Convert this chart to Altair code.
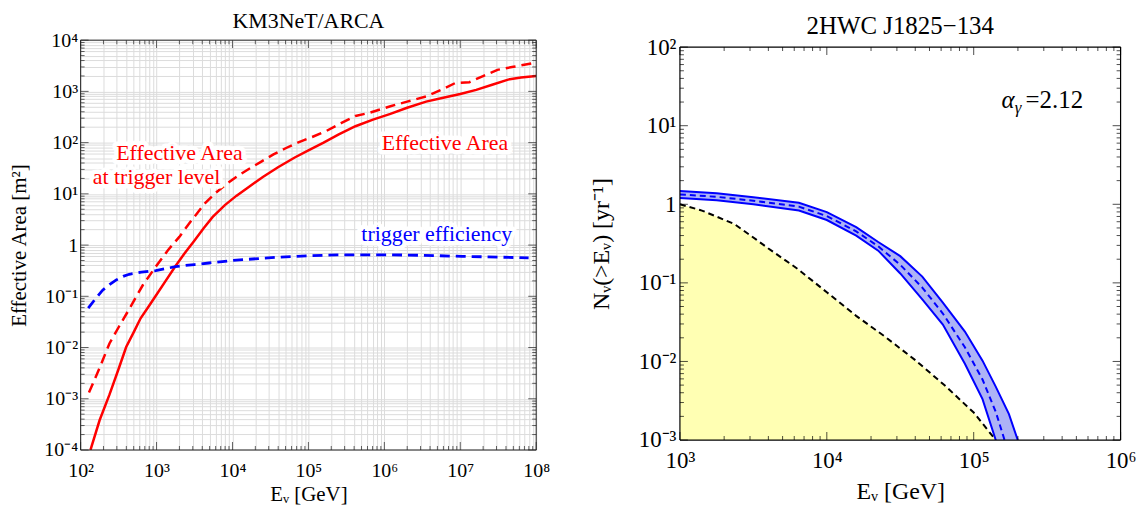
import altair as alt
import pandas as pd

FONT = "Liberation Serif"

# ---------------- Left panel: KM3NeT/ARCA (log10 E [GeV], log10 value) ----------------
AEFF_LOGE = [2.13, 2.25, 2.38, 2.50, 2.60, 2.70, 2.79, 2.90, 2.99, 3.12, 3.25, 3.37, 3.49, 3.62, 3.74, 3.90,
             4.05, 4.21, 4.40, 4.60, 4.82, 5.00, 5.20, 5.40, 5.62, 5.85, 6.08, 6.30, 6.55, 6.79, 7.00, 7.21,
             7.42, 7.63, 7.80, 8.00]
AEFF_LOGA = [-4.00, -3.42, -2.92, -2.42, -1.99, -1.70, -1.43, -1.19, -0.99, -0.70, -0.41, -0.16, 0.07, 0.33,
             0.55, 0.78, 0.96, 1.13, 1.33, 1.52, 1.71, 1.85, 2.00, 2.16, 2.32, 2.45, 2.56, 2.68, 2.80, 2.88,
             2.95, 3.03, 3.13, 3.23, 3.27, 3.30]
TRIG_AREA_LOGE = [2.11, 2.25, 2.38, 2.51, 2.64, 2.82, 2.99, 3.15, 3.30, 3.46, 3.64, 3.78, 3.92, 4.06, 4.21,
                  4.38, 4.54, 4.70, 4.86, 5.05, 5.24, 5.43, 5.62, 5.80, 6.08, 6.30, 6.55, 6.75, 6.93, 7.12,
                  7.30, 7.49, 7.70, 7.96]
TRIG_AREA_LOGA = [-2.88, -2.40, -1.92, -1.58, -1.25, -0.78, -0.42, -0.10, 0.16, 0.48, 0.82, 1.02, 1.19, 1.34,
                  1.48, 1.63, 1.77, 1.89, 2.00, 2.11, 2.23, 2.38, 2.52, 2.58, 2.71, 2.80, 2.90, 3.03, 3.16,
                  3.18, 3.30, 3.42, 3.48, 3.55]
TRIG_EFF_LOGE = [2.10, 2.20, 2.29, 2.38, 2.47, 2.56, 2.64, 2.80, 2.99, 3.25, 3.50, 3.69, 4.00, 4.56, 5.00,
                 5.38, 5.62, 6.08, 6.50, 7.02, 7.50, 7.90]
TRIG_EFF_LOG = [-1.23, -1.04, -0.88, -0.77, -0.68, -0.61, -0.57, -0.53, -0.50, -0.42, -0.38, -0.35, -0.30,
                -0.24, -0.21, -0.19, -0.19, -0.19, -0.20, -0.22, -0.235, -0.25]

LEFT_NOTES_TEXT = ["Effective Area", "at trigger level", "Effective Area", "trigger efficiency"]
LEFT_NOTES_E = [2.0e3, 1.0e3, 6.3e6, 4.9e6]
LEFT_NOTES_V = [64.0, 21.0, 100.0, 1.64]
LEFT_NOTES_COLOR = ["#ff0000", "#ff0000", "#ff0000", "#0000ff"]

LEFT_X_LABELS = ["10²", "10³", "10⁴", "10⁵", "10⁶", "10⁷", "10⁸"]
LEFT_Y_LABELS = ["10⁻⁴", "10⁻³", "10⁻²", "10⁻¹", "1", "10¹", "10²", "10³", "10⁴"]

# ---------------- Right panel: 2HWC J1825-134 (log10 E [GeV], log10 N [1/yr]) ----------------
BAND_LOGE = [3.00, 3.25, 3.50, 3.81, 4.00, 4.20, 4.35, 4.50, 4.65, 4.79, 4.94, 5.06, 5.15, 5.24, 5.30]
BAND_HI = [0.17, 0.14, 0.09, 0.02, -0.10, -0.29, -0.48, -0.66, -0.92, -1.25, -1.62, -1.99, -2.32, -2.67, -3.00]
BAND_LO_LOGE = [3.00, 3.25, 3.50, 3.81, 4.00, 4.20, 4.35, 4.50, 4.65, 4.79, 4.94, 5.06, 5.15]
BAND_LO = [0.08, 0.05, 0.00, -0.08, -0.20, -0.40, -0.59, -0.88, -1.21, -1.53, -2.03, -2.48, -3.00]
BAND_MID_LOGE = [3.00, 3.25, 3.50, 3.81, 4.00, 4.20, 4.35, 4.50, 4.65, 4.79, 4.94, 5.06, 5.15, 5.21]
BAND_MID = [0.125, 0.095, 0.045, -0.03, -0.15, -0.345, -0.535, -0.77, -1.06, -1.39, -1.82, -2.23, -2.64, -3.00]
BLACK_LOGE = [3.00, 3.15, 3.37, 3.52, 3.60, 3.80, 4.00, 4.20, 4.40, 4.60, 4.80, 5.00, 5.15]
BLACK_LOGN = [0.00, -0.08, -0.25, -0.45, -0.56, -0.82, -1.12, -1.42, -1.69, -1.98, -2.30, -2.65, -3.00]

ALPHA_AT = (1.9e5, 16.9)

RIGHT_X_LABELS = ["10³", "10⁴", "10⁵", "10⁶"]
RIGHT_Y_LABELS = ["10⁻³", "10⁻²", "10⁻¹", "1", "10¹", "10²"]


def curve(loge, logv):
    return pd.DataFrame({"x": [10 ** v for v in loge], "y": [10 ** v for v in logv]})


def decades(lo, hi):
    major = [10.0 ** k for k in range(lo, hi + 1)]
    minor = [m * 10.0 ** k for k in range(lo, hi) for m in range(2, 10)]
    return major, minor


def label_expr(lo, labels):
    parts = []
    for i, lab in enumerate(labels):
        v = 10.0 ** (lo + i)
        parts.append(f"(abs(datum.value - {v!r}) < {v * 1e-6!r}) ? '{lab}' : ")
    return "".join(parts) + "''"


def frame_and_ticks(xs, ys, xlim, ylim, xmaj, xmin, ymaj, ymin, W, top, bottom, big, small, color, sw):
    layers = []
    v = pd.DataFrame({"x": list(xlim), "y": [ylim[0]] * 2, "y2": [ylim[1]] * 2})
    h = pd.DataFrame({"y": list(ylim), "x": [xlim[0]] * 2, "x2": [xlim[1]] * 2})
    layers.append(alt.Chart(v).mark_rule(color=color, strokeWidth=sw).encode(
        x=alt.X("x:Q", scale=xs), y=alt.Y("y:Q", scale=ys), y2="y2:Q"))
    layers.append(alt.Chart(h).mark_rule(color=color, strokeWidth=sw).encode(
        y=alt.Y("y:Q", scale=ys), x=alt.X("x:Q", scale=xs), x2="x2:Q"))
    for vals, L in ((xmaj, big), (xmin, small)):
        base = alt.Chart(pd.DataFrame({"t": vals})).mark_tick(size=L, thickness=1, color=color)
        layers.append(base.encode(x=alt.X("t:Q", scale=xs), y=alt.value(bottom - L / 2)))
        layers.append(base.encode(x=alt.X("t:Q", scale=xs), y=alt.value(top + L / 2)))
    for vals, L in ((ymaj, big), (ymin, small)):
        base = alt.Chart(pd.DataFrame({"t": vals})).mark_tick(size=L, thickness=1, color=color)
        layers.append(base.encode(y=alt.Y("t:Q", scale=ys), x=alt.value(L / 2)))
        layers.append(base.encode(y=alt.Y("t:Q", scale=ys), x=alt.value(W - L / 2)))
    return layers


# ======================= Left chart =======================
LW, LH = 458, 412
lx_major, lx_minor = decades(2, 8)
ly_major, ly_minor = decades(-4, 4)
lxs = alt.Scale(type="log", domain=[1e2, 1e8])
lys = alt.Scale(type="log", domain=[1e-4, 1e4])

lx_axis = alt.Axis(values=lx_major + lx_minor, grid=True, gridColor="#dcdcdc", gridWidth=1, ticks=False,
                   domain=False, labelExpr=label_expr(2, LEFT_X_LABELS), labelFont=FONT, labelFontSize=20,
                   labelColor="black", labelPadding=11, labelFlush=False, labelOverlap=False,
                   title="Eᵥ [GeV]", titleFont=FONT, titleFontSize=21, titleFontWeight="normal",
                   titleColor="black", titlePadding=3)
ly_axis = alt.Axis(values=ly_major + ly_minor, grid=True, gridColor="#dcdcdc", gridWidth=1, ticks=False,
                   domain=False, labelExpr=label_expr(-4, LEFT_Y_LABELS), labelFont=FONT, labelFontSize=20,
                   labelColor="black", labelPadding=3, labelFlush=False, labelOverlap=False,
                   title="Effective Area [m²]", titleFont=FONT, titleFontSize=21, titleFontWeight="normal",
                   titleColor="black", titlePadding=14.5)

left_layers = [
    alt.Chart(curve(AEFF_LOGE, AEFF_LOGA)).mark_line(color="#ff0000", strokeWidth=2.5, clip=True).encode(
        x=alt.X("x:Q", scale=lxs, axis=lx_axis), y=alt.Y("y:Q", scale=lys, axis=ly_axis)),
    alt.Chart(curve(TRIG_AREA_LOGE, TRIG_AREA_LOGA)).mark_line(
        color="#ff0000", strokeWidth=2.5, strokeDash=[10, 6], clip=True).encode(
        x=alt.X("x:Q", scale=lxs), y=alt.Y("y:Q", scale=lys)),
    alt.Chart(curve(TRIG_EFF_LOGE, TRIG_EFF_LOG)).mark_line(
        color="#0000ff", strokeWidth=2.8, strokeDash=[10, 6], clip=True).encode(
        x=alt.X("x:Q", scale=lxs), y=alt.Y("y:Q", scale=lys)),
]
notes = pd.DataFrame({"x": LEFT_NOTES_E, "y": LEFT_NOTES_V, "t": LEFT_NOTES_TEXT, "c": LEFT_NOTES_COLOR})
left_layers.append(alt.Chart(notes).mark_text(font=FONT, fontSize=22, fill="white", stroke="white",
                                              strokeWidth=9, strokeJoin="round", baseline="middle").encode(
    x=alt.X("x:Q", scale=lxs), y=alt.Y("y:Q", scale=lys), text="t:N"))
left_layers.append(alt.Chart(notes).mark_text(font=FONT, fontSize=22, baseline="middle").encode(
    x=alt.X("x:Q", scale=lxs), y=alt.Y("y:Q", scale=lys), text="t:N",
    color=alt.Color("c:N", scale=None)))
left_layers += frame_and_ticks(lxs, lys, (1e2, 1e8), (1e-4, 1e4), lx_major, lx_minor, ly_major, ly_minor,
                               LW, 0, LH, 8, 4, "#222222", 1)

left = alt.layer(*left_layers).properties(
    width=LW, height=LH,
    title=alt.TitleParams("KM3NeT/ARCA", font=FONT, fontSize=22, fontWeight="normal", color="black",
                          offset=-3, anchor="middle", frame="group"))

# ======================= Right chart =======================
RW, RH, RTOP = 443, 402, 7
rx_major, rx_minor = decades(3, 6)
ry_major, ry_minor = decades(-3, 2)
rxs = alt.Scale(type="log", domain=[1e3, 1e6])
rys = alt.Scale(type="log", domain=[1e-3, 1e2], range=[RH, RTOP])

rx_axis = alt.Axis(values=rx_major, grid=False, ticks=False, domain=False,
                   labelExpr=label_expr(3, RIGHT_X_LABELS), labelFont=FONT, labelFontSize=23,
                   labelColor="black", labelPadding=10, labelFlush=False, labelOverlap=False,
                   title="Eᵥ [GeV]", titleFont=FONT, titleFontSize=24, titleFontWeight="normal",
                   titleColor="black", titlePadding=7)
ry_axis = alt.Axis(values=ry_major, grid=False, ticks=False, domain=False,
                   labelExpr=label_expr(-3, RIGHT_Y_LABELS), labelFont=FONT, labelFontSize=23,
                   labelColor="black", labelPadding=4, labelFlush=False, labelOverlap=False,
                   title="Nᵥ(>Eᵥ) [yr⁻¹]", titleFont=FONT, titleFontSize=24, titleFontWeight="normal",
                   titleColor="black", titlePadding=25)

floor = 1e-3
black_df = curve(BLACK_LOGE, BLACK_LOGN)
black_df["floor"] = floor
band_df = pd.DataFrame({
    "x": [10 ** v for v in BAND_LOGE],
    "hi": [10 ** v for v in BAND_HI],
    "lo": [10 ** v for v in BAND_LO] + [floor] * (len(BAND_LOGE) - len(BAND_LO)),
})

right_layers = [
    alt.Chart(black_df).mark_area(color="#ffffb3", clip=True).encode(
        x=alt.X("x:Q", scale=rxs, axis=rx_axis), y=alt.Y("y:Q", scale=rys, axis=ry_axis), y2="floor:Q"),
    alt.Chart(band_df).mark_area(color="#adb3f6", clip=True).encode(
        x=alt.X("x:Q", scale=rxs), y=alt.Y("hi:Q", scale=rys), y2="lo:Q"),
    alt.Chart(curve(BAND_LOGE, BAND_HI)).mark_line(color="#0000ff", strokeWidth=2, clip=True).encode(
        x=alt.X("x:Q", scale=rxs), y=alt.Y("y:Q", scale=rys)),
    alt.Chart(curve(BAND_LO_LOGE, BAND_LO)).mark_line(color="#0000ff", strokeWidth=2, clip=True).encode(
        x=alt.X("x:Q", scale=rxs), y=alt.Y("y:Q", scale=rys)),
    alt.Chart(curve(BAND_MID_LOGE, BAND_MID)).mark_line(
        color="#0000ff", strokeWidth=2, strokeDash=[6, 4], clip=True).encode(
        x=alt.X("x:Q", scale=rxs), y=alt.Y("y:Q", scale=rys)),
    alt.Chart(black_df).mark_line(color="black", strokeWidth=2, strokeDash=[6, 4], clip=True).encode(
        x=alt.X("x:Q", scale=rxs), y=alt.Y("y:Q", scale=rys)),
]
alpha_df = pd.DataFrame({"x": [ALPHA_AT[0]], "y": [ALPHA_AT[1]]})
for txt, size, style, align, dx, dy in (("α", 25, "italic", "right", 0, 0),
                                       ("γ", 17, "italic", "left", 0, 5),
                                       ("=2.12", 25, "normal", "left", 11, 0)):
    right_layers.append(alt.Chart(alpha_df).mark_text(
        text=txt, font=FONT, fontSize=size, fontStyle=style, align=align, baseline="alphabetic",
        dx=dx, dy=dy, color="black").encode(
        x=alt.X("x:Q", scale=rxs), y=alt.Y("y:Q", scale=rys)))
right_layers += frame_and_ticks(rxs, rys, (1e3, 1e6), (1e-3, 1e2), rx_major, rx_minor, ry_major, ry_minor,
                                RW, RTOP, RH, 8, 4, "black", 1.2)

right = alt.layer(*right_layers).properties(
    width=RW, height=RH,
    title=alt.TitleParams("2HWC J1825−134", font=FONT, fontSize=25, fontWeight="normal", color="black",
                          offset=-3, anchor="middle", frame="group"))

chart = alt.hconcat(left, right, spacing=38.5).properties(
    padding={"left": 0, "top": 0, "right": 0, "bottom": 0}
).configure_view(stroke="transparent")

chart.save("out.html", embed_options={"renderer": "svg", "actions": False})
